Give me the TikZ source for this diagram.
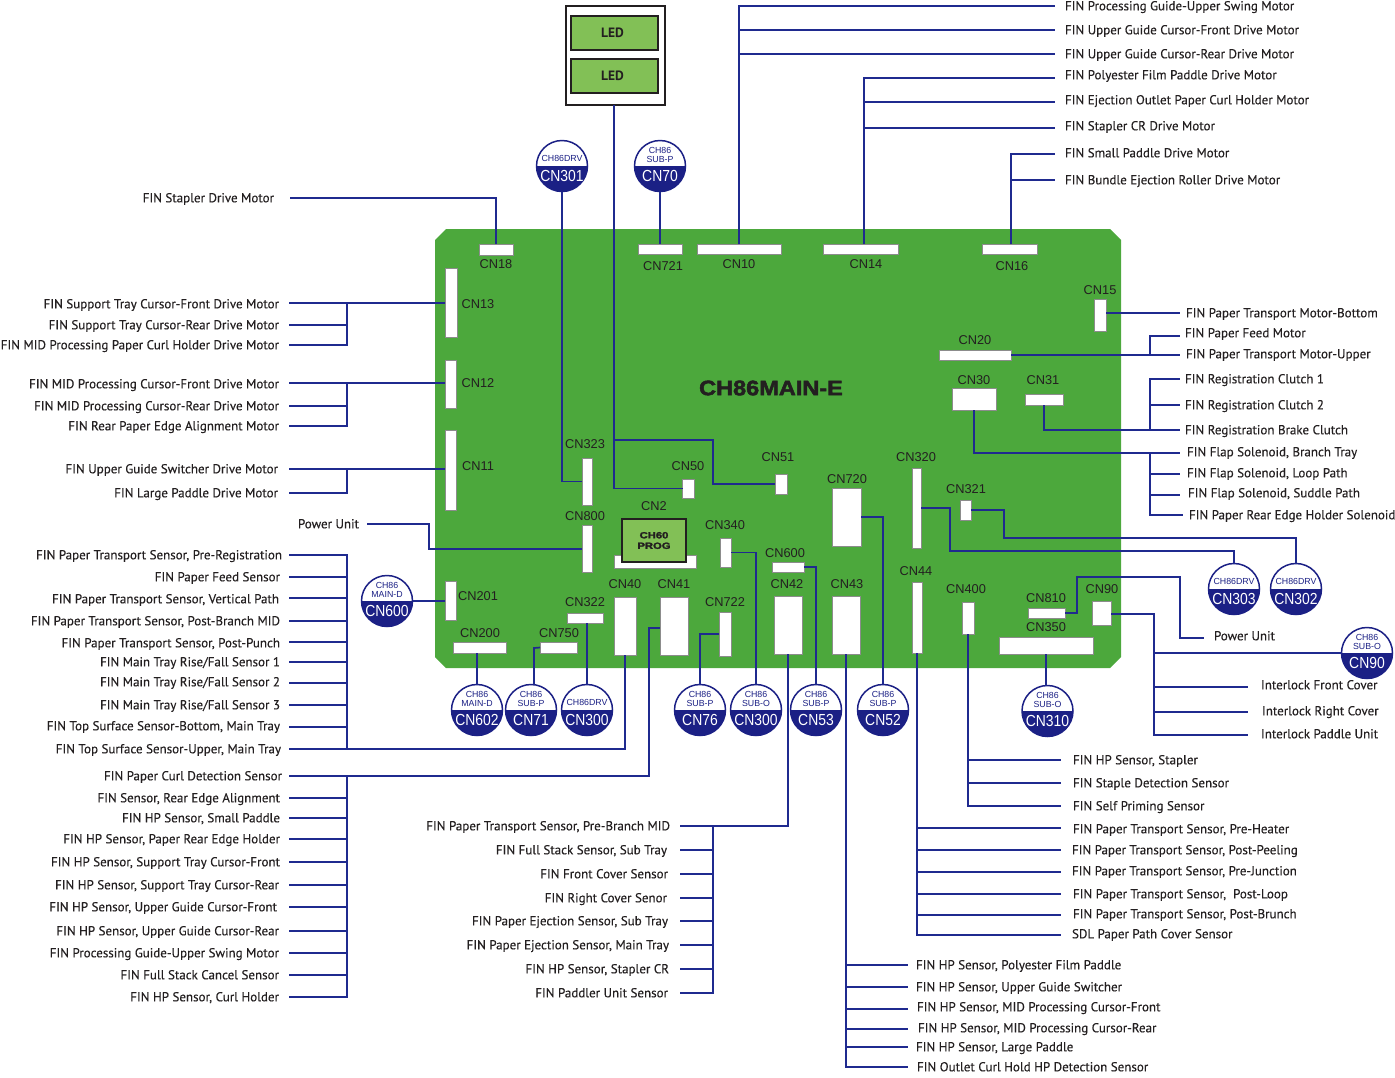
\documentclass[tikz,border=0pt]{standalone}
\usepackage{fontspec}
\setmainfont{PT Sans}
\newfontfamily\labfont[FakeBold=0.25]{PT Sans}
\newfontfamily\arialfont{Liberation Sans}
\newfontfamily\heavyfont[FakeBold=2.2]{Liberation Sans Bold}
\usetikzlibrary{calc}
\definecolor{boardgreen}{HTML}{4CA83C}
\definecolor{ledgreen}{HTML}{82C056}
\definecolor{navy}{HTML}{1B2085}
\definecolor{wireblue}{HTML}{1F2A8F}
\definecolor{ink}{HTML}{231F20}
\tikzset{
  wire/.style={draw=wireblue,line width=1.7pt},
  connrect/.style={draw=black!45,fill=white,line width=.7pt,inner sep=0pt,outer sep=0pt},
  cnlabel/.style={font=\arialfont\fontsize{12.8}{14}\selectfont,text=ink,inner sep=0pt,yshift=-0.5pt},
  lab/.style={font=\labfont\fontsize{13}{15}\selectfont,text=ink,inner xsep=0pt,inner ysep=0pt,outer sep=0pt,text height=9pt,text depth=3pt},
  badge/.style={circle,draw=navy,fill=white,line width=1.5pt,minimum size=51pt,inner sep=0pt,outer sep=0pt,
    path picture={\fill[navy] (path picture bounding box.west) rectangle (path picture bounding box.south east);}},
  badgetop/.style={font=\arialfont\fontsize{8.8}{9.8}\selectfont,text=navy,align=center,inner sep=0pt},
  badgebot/.style={font=\arialfont\fontsize{16}{18}\selectfont,text=white,inner sep=0pt},
  ledbox/.style={draw=ink,fill=ledgreen,line width=1.6pt,inner sep=0pt,outer sep=0pt},
}
% connector rectangle with its name label: name,x1,y1,x2,y2,text,lx,ly
\newcommand{\cnr}[8]{%
  \pgfmathsetlengthmacro{\rw}{#4-#2}\pgfmathsetlengthmacro{\rh}{#5-#3}%
  \node[connrect,minimum width=\rw,minimum height=\rh] (#1) at ({(#2+#4)/2},{(#3+#5)/2}) {};
  \node[cnlabel] (#1-t) at (#7,#8) {#6};}
% right-hand label: [raise]{name}{wire x}{text x}{wire y}{text}
\newcommand{\lblR}[6][0]{%
  \node[lab,anchor=west] (#2) at (#3,#5) {\kern\numexpr#4-#3\relax pt\raisebox{\dimexpr#1pt-1.3pt}{#6}};}
% left-hand label: [raise]{name}{wire x}{text right x}{wire y}{text}
\newcommand{\lblL}[6][0]{%
  \node[lab,anchor=east] (#2) at (#3,#5) {\raisebox{\dimexpr#1pt-1.3pt}{#6}\kern\numexpr#3-#4\relax pt};}
% badge: name,x,y,top dy,top text,bottom text
\newcommand{\cnc}[6]{%
  \node[badge] (#1) at (#2,#3) {};
  \node[badgetop] (#1-a) at ($(#1)+(0,#4)$) {#5};
  \node[badgebot] (#1-b) at ($(#1)+(0,10)$) {\scalebox{.87}[1]{#6}};}
\begin{document}
\begin{tikzpicture}[x=1pt,y=-1pt]
\useasboundingbox (0,0) rectangle (1395,1077);
% board
\fill[boardgreen] (446,229) -- (1110,229) -- (1121,240) -- (1121,657) -- (1110,668) -- (446,668) -- (435,657) -- (435,240) -- cycle;
\node[font=\heavyfont\fontsize{21}{24}\selectfont,text=ink,inner sep=0pt] (title) at (771,388) {\scalebox{1.12}[1]{CH86MAIN-E}};
% LED panel
\node[draw=ink,fill=white,line width=1.8pt,minimum width=99pt,minimum height=99pt,inner sep=0,outer sep=0] (ledpanel) at (615.5,55.5) {};
\node[ledbox,minimum width=87pt,minimum height=34pt,font=\bfseries\fontsize{13.5}{15}\selectfont,text=ink] (led1) at (614.5,33) {LED\kern4pt};
\node[ledbox,minimum width=87pt,minimum height=34pt,font=\bfseries\fontsize{13.5}{15}\selectfont,text=ink] (led2) at (614.5,76) {LED\kern4pt};
% connectors on the board
\cnr{cn18}{479}{244}{513}{255}{CN18}{496}{264}
\cnr{cn721}{638}{244}{682}{254}{CN721}{663}{266}
\cnr{cn10}{697}{244}{781}{254}{CN10}{739}{264}
\cnr{cn14}{823}{244}{898}{254}{CN14}{866}{264}
\cnr{cn16}{982}{244}{1037}{254}{CN16}{1012}{266}
\cnr{cn13}{445}{268}{457}{337}{CN13}{478}{304}
\cnr{cn12}{445}{360}{456}{408}{CN12}{478}{383}
\cnr{cn11}{445}{430}{456}{510}{CN11}{478}{466}
\cnr{cn15}{1094}{299}{1106}{331}{CN15}{1100}{290}
\cnr{cn20}{939}{350}{1011}{360}{CN20}{975}{340}
\cnr{cn30}{952}{388}{996}{410}{CN30}{974}{380}
\cnr{cn31}{1025}{394}{1063}{405}{CN31}{1043}{380}
\cnr{cn323}{582}{458}{592}{505}{CN323}{585}{444}
\cnr{cn50}{682.5}{479}{694.5}{498}{CN50}{688}{466}
\cnr{cn51}{775}{474}{787}{494}{CN51}{778}{457}
\cnr{cn720}{832}{488}{861}{546}{CN720}{847}{479}
\cnr{cn320}{912}{468}{921}{548}{CN320}{916}{457}
\cnr{cn321}{960}{500}{971}{520}{CN321}{966}{489}
\cnr{cn800}{582}{525}{592}{572}{CN800}{585}{516}
\cnr{cn2}{614}{555}{696}{568}{CN2}{654}{506}
\cnr{cn340}{720}{538}{731}{567}{CN340}{725}{525}
\cnr{cn600}{772}{562}{804}{572}{CN600}{785}{553}
\cnr{cn201}{445}{581}{456}{620}{CN201}{478}{596}
\cnr{cn200}{453}{642}{506}{653}{CN200}{480}{633}
\cnr{cn750}{540}{642}{577}{653}{CN750}{559}{633}
\cnr{cn322}{567}{613}{603}{623}{CN322}{585}{602}
\cnr{cn40}{614}{597}{636}{655}{CN40}{625}{584}
\cnr{cn41}{660}{597}{688}{655}{CN41}{674}{584}
\cnr{cn722}{719}{612}{731}{656}{CN722}{725}{602}
\cnr{cn42}{774}{596}{802}{654}{CN42}{787}{584}
\cnr{cn43}{832}{596}{860}{654}{CN43}{847}{584}
\cnr{cn44}{912}{582}{922}{653}{CN44}{916}{571}
\cnr{cn400}{962}{602}{974}{634}{CN400}{966}{589}
\cnr{cn810}{1028}{608}{1065}{618}{CN810}{1046}{598}
\cnr{cn90}{1092}{601}{1111}{625}{CN90}{1102}{589}
\cnr{cn350}{999}{637}{1093}{654}{CN350}{1046}{627}
\node[ledbox,line width=1.5pt,minimum width=64pt,minimum height=43pt,align=center,font=\heavyfont\fontsize{9}{10.5}\selectfont,text=ink] (prog) at (654,540.5) {\scalebox{1.25}[1]{CH60}\\\scalebox{1.25}[1]{PROG}};
% badges
\cnc{bCN301}{562}{166}{-8}{CH86DRV}{CN301}
\cnc{bCN70}{660}{166}{-11}{CH86\\SUB-P}{CN70}
\cnc{bCN600}{387}{601}{-11}{CH86\\MAIN-D}{CN600}
\cnc{bCN602}{477}{710}{-11}{CH86\\MAIN-D}{CN602}
\cnc{bCN71}{531}{710}{-11}{CH86\\SUB-P}{CN71}
\cnc{bCN300a}{587}{710}{-8}{CH86DRV}{CN300}
\cnc{bCN76}{700}{710}{-11}{CH86\\SUB-P}{CN76}
\cnc{bCN300b}{756}{710}{-11}{CH86\\SUB-O}{CN300}
\cnc{bCN53}{816}{710}{-11}{CH86\\SUB-P}{CN53}
\cnc{bCN52}{883}{710}{-11}{CH86\\SUB-P}{CN52}
\cnc{bCN310}{1047.5}{711}{-11}{CH86\\SUB-O}{CN310}
\cnc{bCN303}{1234}{589}{-8}{CH86DRV}{CN303}
\cnc{bCN302}{1296}{589}{-8}{CH86DRV}{CN302}
\cnc{bCN90}{1367}{653}{-11}{CH86\\SUB-O}{CN90}
% top right labels
\lblR{t1}{1055}{1065}{6}{FIN Processing Guide-Upper Swing Motor}
\lblR{t2}{1055}{1065}{30}{FIN Upper Guide Cursor-Front Drive Motor}
\lblR{t3}{1055}{1065}{54}{FIN Upper Guide Cursor-Rear Drive Motor}
\lblR[3]{t4}{1055}{1065}{78}{FIN Polyester Film Paddle Drive Motor}
\lblR[2]{t5}{1055}{1065}{102}{FIN Ejection Outlet Paper Curl Holder Motor}
\lblR[2]{t6}{1055}{1065}{128}{FIN Stapler CR Drive Motor}
\lblR[1]{t7}{1055}{1065}{154}{FIN Small Paddle Drive Motor}
\lblR{t8}{1055}{1065}{180}{FIN Bundle Ejection Roller Drive Motor}
% right middle labels
\lblR{r1}{1180}{1186}{313}{FIN Paper Transport Motor-Bottom}
\lblR[3]{r2}{1180}{1185}{336}{FIN Paper Feed Motor}
\lblR[1]{r3}{1180}{1186}{355}{FIN Paper Transport Motor-Upper}
\lblR{r4}{1180}{1185}{379}{FIN Registration Clutch 1}
\lblR{r5}{1180}{1185}{405}{FIN Registration Clutch 2}
\lblR{r6}{1180}{1185}{430}{FIN Registration Brake Clutch}
\lblR[1]{r7}{1180}{1187}{453}{FIN Flap Solenoid, Branch Tray}
\lblR[1]{r8}{1180}{1187}{474}{FIN Flap Solenoid, Loop Path}
\lblR[2]{r9}{1180}{1188}{495}{FIN Flap Solenoid, Suddle Path}
\lblR{r10}{1183}{1189}{515}{FIN Paper Rear Edge Holder Solenoid}
\lblR[2]{pu2}{1204}{1214}{638}{Power Unit}
\lblR[2]{i1}{1248}{1261}{687}{Interlock Front Cover}
\lblR[1]{i2}{1248}{1262}{712}{Interlock Right Cover}
\lblR[1]{i3}{1248}{1261}{735}{Interlock Paddle Unit}
\lblR{s1}{1061}{1073}{760}{FIN HP Sensor, Stapler}
\lblR{s2}{1061}{1073}{783}{FIN Staple Detection Sensor}
\lblR{s3}{1061}{1073}{806}{FIN Self Priming Sensor}
\lblR[-1]{p1}{1061}{1073}{828}{FIN Paper Transport Sensor, Pre-Heater}
\lblR{p2}{1061}{1072}{850}{FIN Paper Transport Sensor, Post-Peeling}
\lblR[1]{p3}{1061}{1072}{872}{FIN Paper Transport Sensor, Pre-Junction}
\lblR{p4}{1061}{1073}{894}{FIN Paper Transport Sensor,\ \ Post-Loop}
\lblR[1]{p5}{1061}{1073}{915}{FIN Paper Transport Sensor, Post-Brunch}
\lblR[1]{p6}{1061}{1072}{935}{SDL Paper Path Cover Sensor}
\lblR{h1}{908}{916}{965}{FIN HP Sensor, Polyester Film Paddle}
\lblR{h2}{908}{916}{987}{FIN HP Sensor, Upper Guide Switcher}
\lblR[2]{h3}{908}{917}{1009}{FIN HP Sensor, MID Processing Cursor-Front}
\lblR[1]{h4}{908}{918}{1029}{FIN HP Sensor, MID Processing Cursor-Rear}
\lblR{h5}{908}{916}{1047}{FIN HP Sensor, Large Paddle}
\lblR{h6}{908}{917}{1067}{FIN Outlet Curl Hold HP Detection Sensor}
% left labels
\lblL{l0}{290}{274}{198}{FIN Stapler Drive Motor}
\lblL[-1]{a1}{289}{279}{303}{FIN Support Tray Cursor-Front Drive Motor}
\lblL{a2}{289}{279}{325}{FIN Support Tray Cursor-Rear Drive Motor}
\lblL{a3}{289}{279}{345}{FIN MID Processing Paper Curl Holder Drive Motor}
\lblL[-1]{b1}{289}{279}{383}{FIN MID Processing Cursor-Front Drive Motor}
\lblL{b2}{289}{279}{406}{FIN MID Processing Cursor-Rear Drive Motor}
\lblL{b3}{289}{279}{426}{FIN Rear Paper Edge Alignment Motor}
\lblL{c1}{289}{278}{469}{FIN Upper Guide Switcher Drive Motor}
\lblL{c2}{289}{278}{493}{FIN Large Paddle Drive Motor}
\lblL{pu1}{367}{359}{524}{Power Unit}
\lblL{d1}{289}{282}{555}{FIN Paper Transport Sensor, Pre-Registration}
\lblL{d2}{289}{280}{577}{FIN Paper Feed Sensor}
\lblL[-1]{d3}{289}{279}{598}{FIN Paper Transport Sensor, Vertical Path}
\lblL{d4}{289}{280}{621}{FIN Paper Transport Sensor, Post-Branch MID}
\lblL[-1]{d5}{289}{280}{642}{FIN Paper Transport Sensor, Post-Punch}
\lblL{d6}{289}{280}{662}{FIN Main Tray Rise/Fall Sensor 1}
\lblL[1]{d7}{289}{280}{683}{FIN Main Tray Rise/Fall Sensor 2}
\lblL{d8}{289}{280}{705}{FIN Main Tray Rise/Fall Sensor 3}
\lblL[1]{d9}{289}{280}{727}{FIN Top Surface Sensor-Bottom, Main Tray}
\lblL{d10}{289}{281}{749}{FIN Top Surface Sensor-Upper, Main Tray}
\lblL{e1}{289}{282}{776}{FIN Paper Curl Detection Sensor}
\lblL{e2}{289}{280}{798}{FIN Sensor, Rear Edge Alignment}
\lblL{e3}{289}{280}{818}{FIN HP Sensor, Small Paddle}
\lblL{e4}{289}{280}{839}{FIN HP Sensor, Paper Rear Edge Holder}
\lblL{e5}{289}{280}{862}{FIN HP Sensor, Support Tray Cursor-Front}
\lblL{e6}{289}{279}{885}{FIN HP Sensor, Support Tray Cursor-Rear}
\lblL{e7}{289}{277}{907}{FIN HP Sensor, Upper Guide Cursor-Front}
\lblL{e8}{289}{279}{931}{FIN HP Sensor, Upper Guide Cursor-Rear}
\lblL{e9}{289}{279}{953}{FIN Processing Guide-Upper Swing Motor}
\lblL{e10}{289}{279}{975}{FIN Full Stack Cancel Sensor}
\lblL{e11}{289}{279}{997}{FIN HP Sensor, Curl Holder}
% centre labels
\lblL{f1}{680}{670}{826}{FIN Paper Transport Sensor, Pre-Branch MID}
\lblL{f2}{680}{667}{850}{FIN Full Stack Sensor, Sub Tray}
\lblL{f3}{680}{668}{874}{FIN Front Cover Sensor}
\lblL{f4}{680}{667}{898}{FIN Right Cover Senor}
\lblL{f5}{680}{668}{921}{FIN Paper Ejection Sensor, Sub Tray}
\lblL{f6}{680}{669}{945}{FIN Paper Ejection Sensor, Main Tray}
\lblL{f7}{680}{669}{969}{FIN HP Sensor, Stapler CR}
\lblL{f8}{680}{668}{993}{FIN Paddler Unit Sensor}
% bus positions
\coordinate (busL) at (347,0);
\coordinate (busT14) at (864,0);
\coordinate (busT16) at (1011,0);
\coordinate (busR) at (1150,0);
\coordinate (busI) at (1154,0);
\coordinate (busF) at (713,0);
\coordinate (ledtap) at (614,440);
\coordinate (ledturn) at (713,484);
\coordinate (leddown) at (614,489);
% wires: top
\draw[wire] (l0.east) -| (cn18.north);
\draw[wire] (bCN301.south) -- (bCN301.south |- cn323.west) -- (cn323.west);
\draw[wire] (bCN70.south) -- (bCN70.south |- cn721.north);
\draw[wire] (ledpanel.south -| leddown) |- (cn50.west);
\draw[wire] (ledtap) -| (ledturn) -- (cn51.west |- ledturn);
\draw[wire] (cn10.north) |- (t1.west);
\draw[wire] (cn10.north |- t2.west) -- (t2.west);
\draw[wire] (cn10.north |- t3.west) -- (t3.west);
\draw[wire] (busT14 |- cn14.north) |- (t4.west);
\draw[wire] (busT14 |- t5.west) -- (t5.west);
\draw[wire] (busT14 |- t6.west) -- (t6.west);
\draw[wire] (busT16 |- cn16.north) |- (t7.west);
\draw[wire] (busT16 |- t8.west) -- (t8.west);
% wires: left
\draw[wire] (a1.east) -- (cn13.west |- a1.east);
\draw[wire] (a3.east) -| (busL |- a1.east);
\draw[wire] (a2.east) -- (busL |- a2.east);
\draw[wire] (b1.east) -- (cn12.west |- b1.east);
\draw[wire] (b3.east) -| (busL |- b1.east);
\draw[wire] (b2.east) -- (busL |- b2.east);
\draw[wire] (c1.east) -- (cn11.west |- c1.east);
\draw[wire] (c2.east) -| (busL |- c1.east);
\coordinate (puturn) at (429,549);
\draw[wire] (pu1.east) -| (puturn) -- (cn800.west |- puturn);
\draw[wire] (bCN600.east) -- (cn201.west |- bCN600.east);
\draw[wire] (d1.east) -| (busL |- d10.east);
\foreach \n in {d2,d3,d4,d5,d6,d7,d8,d9} \draw[wire] (\n.east) -- (busL |- \n.east);
\draw[wire] (d10.east) -| (cn40.south);
\draw[wire] (e1.east) -| (busL |- e11.east) -- (e11.east);
\foreach \n in {e2,e3,e4,e5,e6,e7,e8,e9,e10} \draw[wire] (\n.east) -- (busL |- \n.east);
\coordinate (x41) at (649,628);
\draw[wire] (e1.east) -| (x41) -- (cn41.west |- x41);
% wires: bottom badges
\draw[wire] (cn200.south -| bCN602.north) -- (bCN602.north);
\coordinate (x71) at (534,648);
\draw[wire] (cn750.west) -- (x71) -- (x71 |- bCN71.north);
\draw[wire] (cn322.south -| bCN300a.north) -- (bCN300a.north);
\draw[wire] (cn722.west) -| (bCN76.north);
\draw[wire] (cn340.east) -| (bCN300b.north);
\draw[wire] (cn600.east) -| (bCN53.north);
\draw[wire] (cn720.east) -| (bCN52.north);
\draw[wire] (cn350.south) -- (cn350.south |- bCN310.north);
% wires: centre
\draw[wire] (f1.east) -| (cn42.south);
\draw[wire] (busF |- f1.east) |- (f8.east);
\foreach \n in {f2,f3,f4,f5,f6,f7} \draw[wire] (\n.east) -- (busF |- \n.east);
\draw[wire] (cn400.south) |- (s3.west);
\draw[wire] (cn400.south |- s1.west) -- (s1.west);
\draw[wire] (cn400.south |- s2.west) -- (s2.west);
\draw[wire] (cn44.south) |- (p6.west);
\foreach \n in {p1,p2,p3,p4,p5} \draw[wire] (cn44.south |- \n.west) -- (\n.west);
\draw[wire] (cn43.south) |- (h6.west);
\foreach \n in {h1,h2,h3,h4,h5} \draw[wire] (cn43.south |- \n.west) -- (\n.west);
% wires: right
\draw[wire] (cn15.east |- r1.west) -- (r1.west);
\draw[wire] (cn20.east) -- (r3.west);
\draw[wire] (busR |- r3.west) |- (r2.west);
\draw[wire] (cn31.south) |- (r6.west);
\draw[wire] (busR |- r6.west) |- (r4.west);
\draw[wire] (busR |- r5.west) -- (r5.west);
\draw[wire] (cn30.south) |- (r7.west);
\draw[wire] (busR |- r7.west) |- (r10.west);
\draw[wire] (busR |- r8.west) -- (r8.west);
\draw[wire] (busR |- r9.west) -- (r9.west);
\coordinate (c303a) at (950,508);
\coordinate (c303b) at (950,551);
\draw[wire] (cn320.east |- c303a) -- (c303a) -- (c303b) -| (bCN303.north);
\coordinate (c302a) at (1004,510);
\coordinate (c302b) at (1004,538);
\draw[wire] (cn321.east |- c302a) -- (c302a) -- (c302b) -| (bCN302.north);
\coordinate (c810a) at (1077,577);
\coordinate (c810b) at (1180,577);
\draw[wire] (cn810.east) -| (c810a) -- (c810b) |- (pu2.west);
\coordinate (c90a) at (1154,614);
\draw[wire] (cn90.east |- c90a) -- (c90a) |- (i3.west);
\draw[wire] (busI |- bCN90.west) -- (bCN90.west);
\draw[wire] (busI |- i1.west) -- (i1.west);
\draw[wire] (busI |- i2.west) -- (i2.west);
\end{tikzpicture}
\end{document}
